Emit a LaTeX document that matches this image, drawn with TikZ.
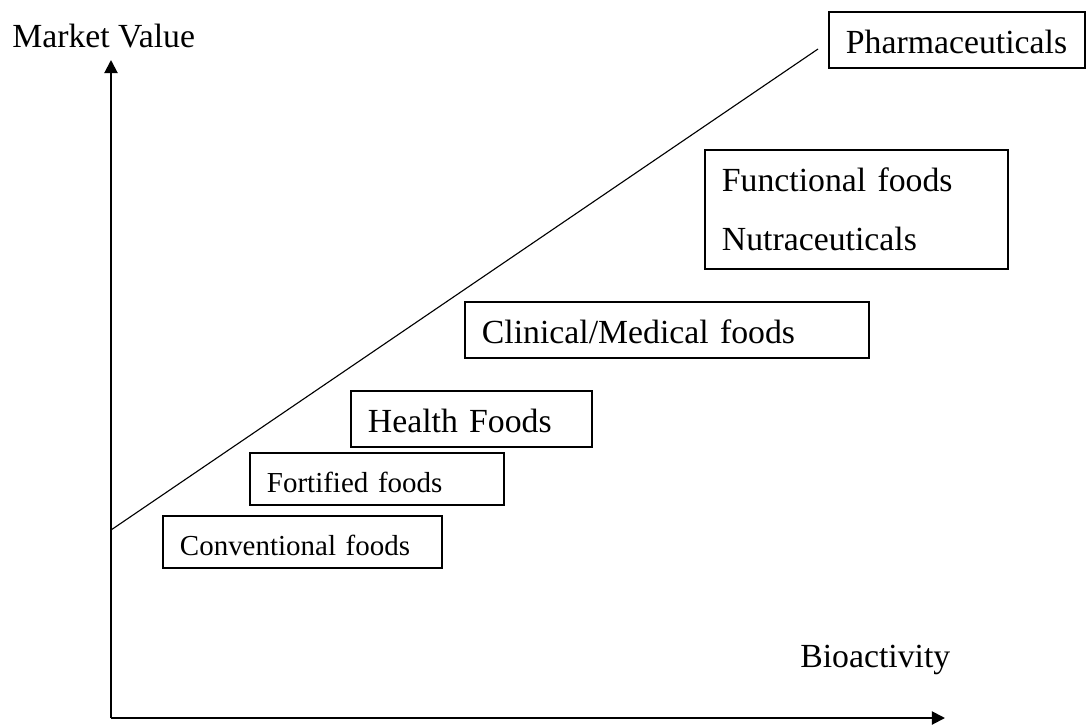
\documentclass[tikz,border=0pt]{standalone}
\usepackage{fontspec}
\setmainfont{Liberation Serif}
\usetikzlibrary{arrows.meta}
\begin{document}
\begin{tikzpicture}[x=0.025cm,y=-0.025cm,
  bigtext/.style={font=\fontsize{24}{28}\selectfont},
  smalltext/.style={font=\fontsize{20.6}{24}\selectfont},
  catbox/.style={draw, line width=0.8pt, inner xsep=0.425cm, inner ysep=0pt,
    align=left, text height=18.5pt, text depth=0pt},
  axis/.style={line width=1.4pt, -{Triangle[length=0.33cm,width=0.33cm]}},
  trend/.style={line width=0.8pt}]
\useasboundingbox (0,0) rectangle (1087,725);
% axes
\coordinate (origin) at (111,718);
\coordinate (ytip) at (111,60);
\coordinate (xtip) at (945,718);
\draw[axis] (origin) -- (ytip);
\draw[axis] (origin) -- (xtip);
\node[bigtext, anchor=base west, inner sep=0pt] (ylabel) at (12,47) {Market Value};
\node[bigtext, anchor=base west, inner sep=0pt] (xlabel) at (800,667) {Bioactivity};
% trend line
\coordinate (tstart) at (111,530);
\coordinate (tend) at (818,49);
\draw[trend] (tstart) -- (tend);
% boxes
\node[catbox, bigtext, minimum width=6.4cm, minimum height=1.4cm, text width=5.55cm] (pharma) at (957,40) {Pharmaceuticals};
\node[catbox, bigtext, font=\fontsize{24}{41.3}\selectfont, minimum width=7.575cm, minimum height=2.975cm, text width=6.725cm, text height=0pt, text depth=24.9pt] (functional) at (856.5,209.5)
  {\begin{tabular}[t]{@{}l@{}}Functional foods\\Nutraceuticals\end{tabular}};
\node[catbox, bigtext, minimum width=10.1cm, minimum height=1.4cm, text width=9.25cm] (clinical) at (667,330) {Clinical/Medical foods};
\node[catbox, bigtext, minimum width=6.025cm, minimum height=1.4cm, text width=5.175cm] (health) at (471.5,419) {Health Foods};
\node[catbox, smalltext, minimum width=6.35cm, minimum height=1.3cm, text width=5.5cm] (fortified) at (377,479) {Fortified foods};
\node[catbox, smalltext, minimum width=6.975cm, minimum height=1.3cm, text width=6.125cm] (conventional) at (302.5,542) {Conventional foods};
\end{tikzpicture}
\end{document}
